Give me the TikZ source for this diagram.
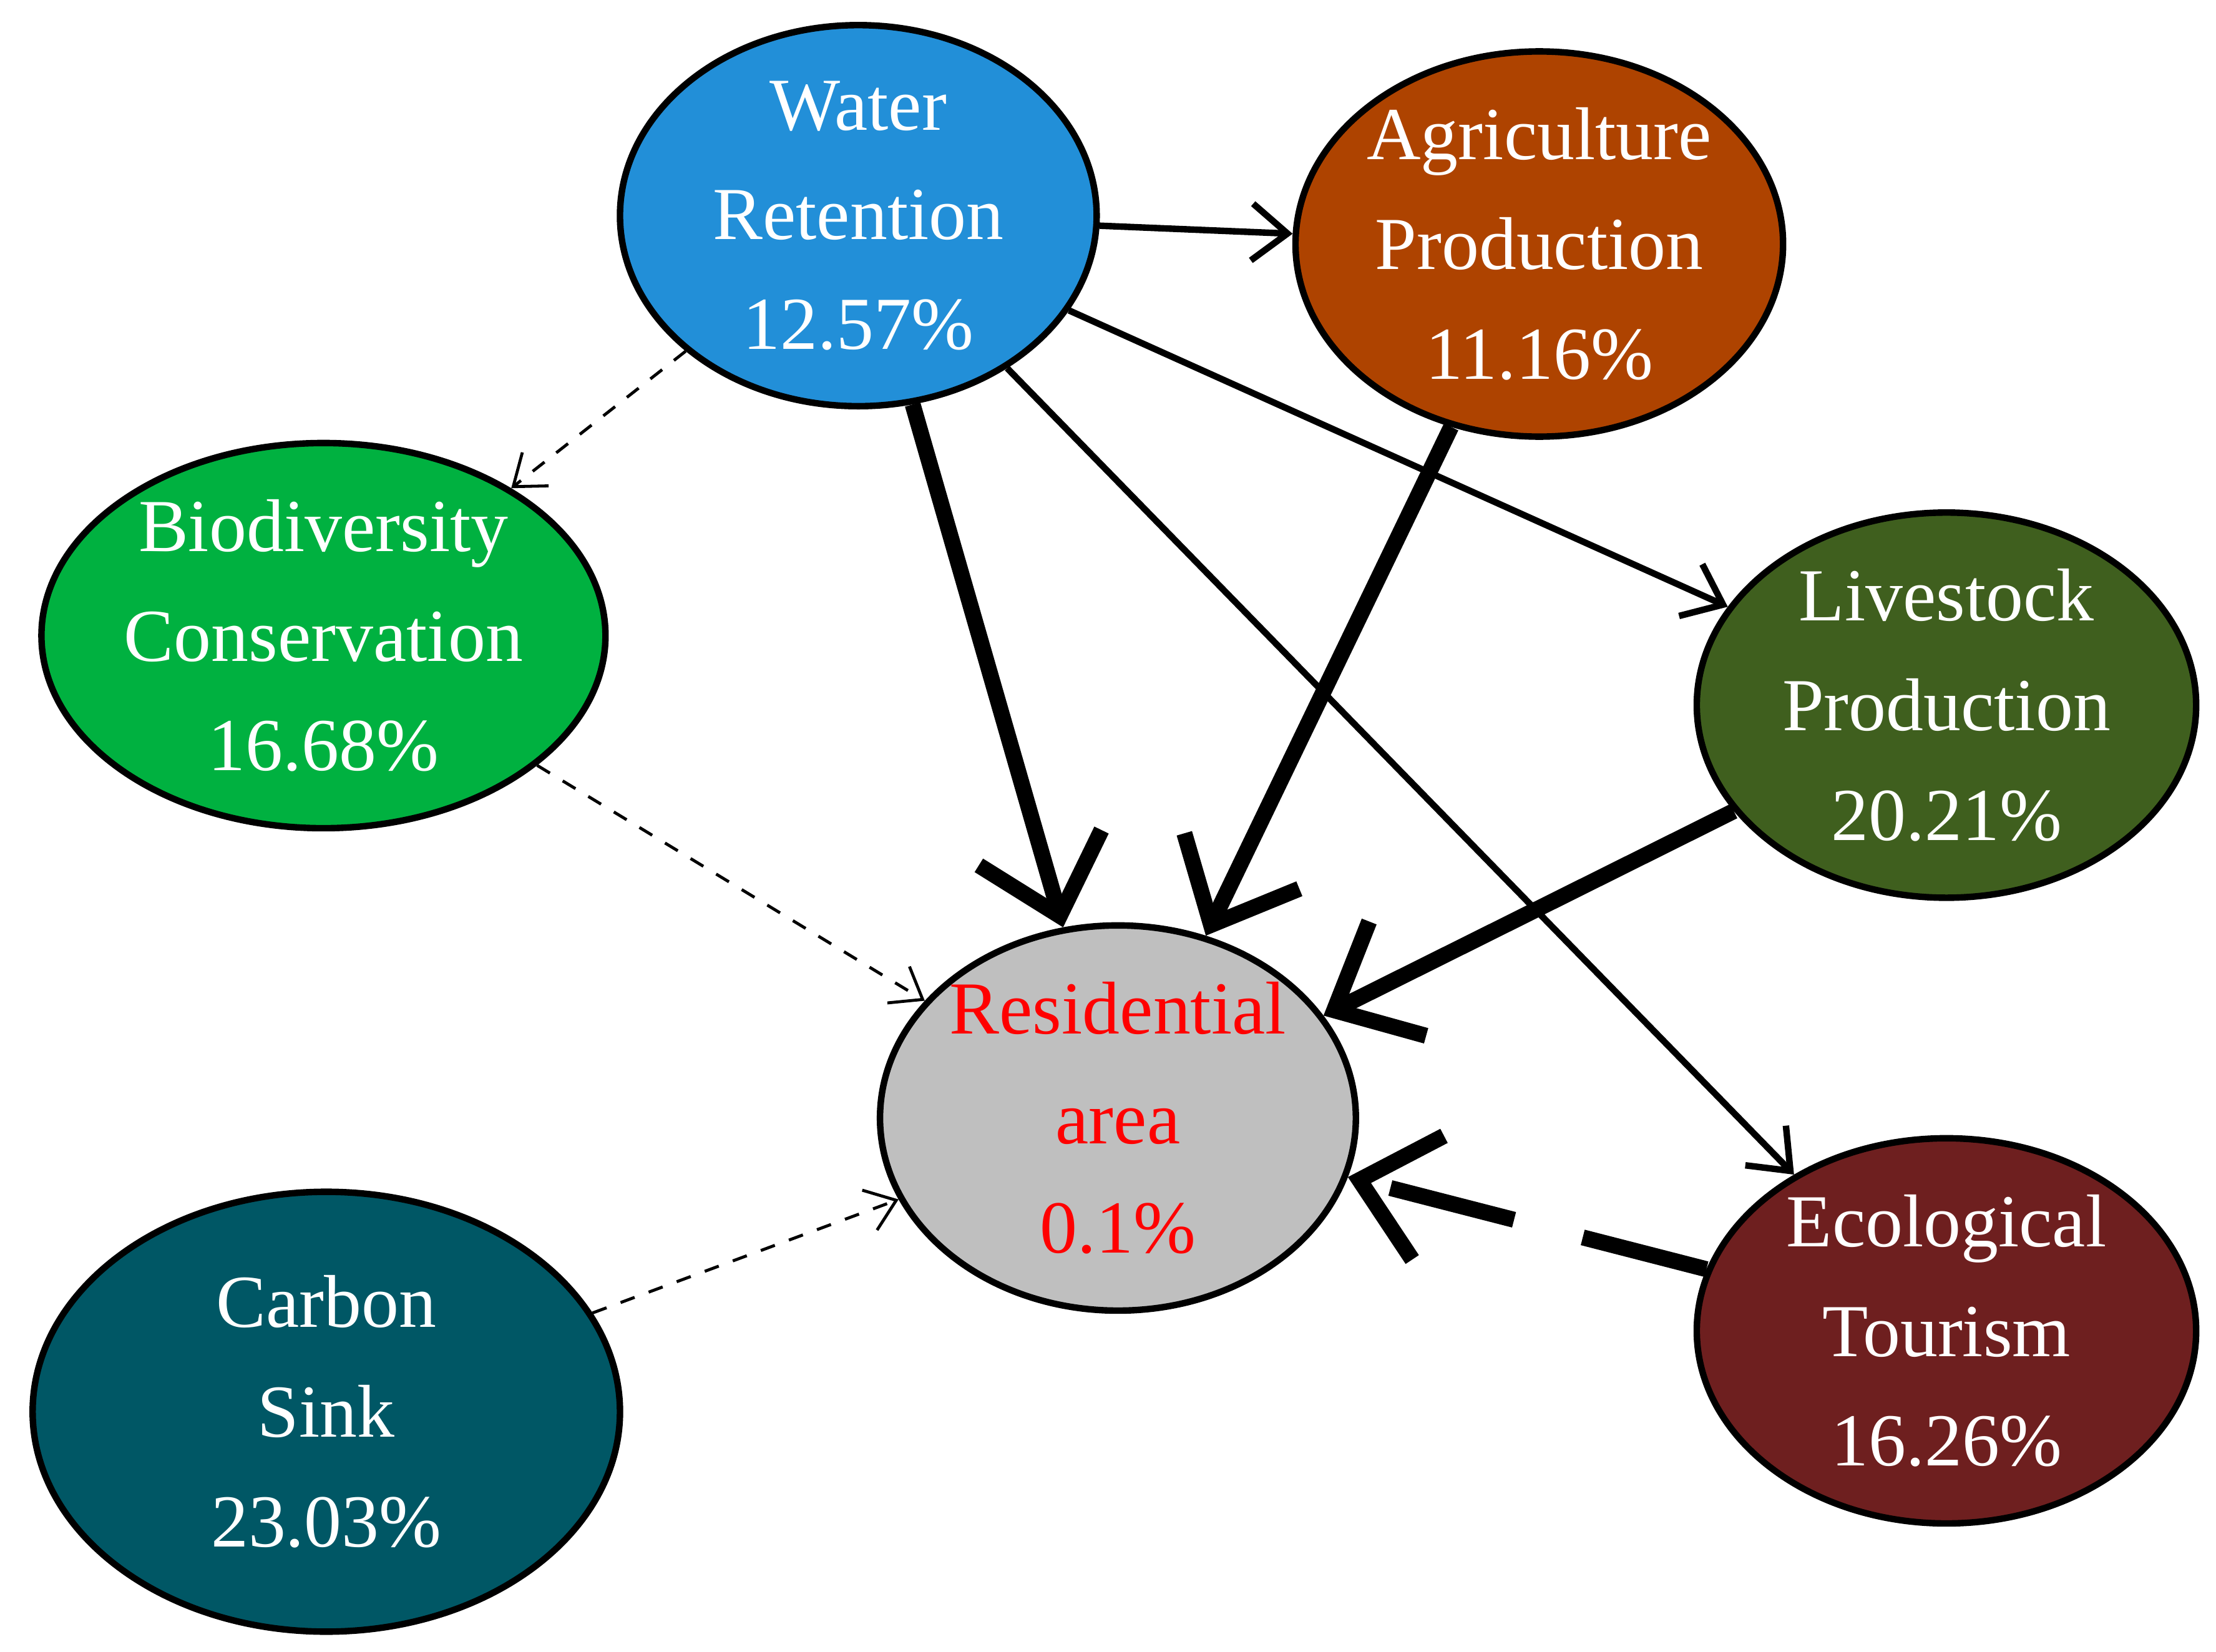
\documentclass[tikz,border=0pt]{standalone}
\usepackage{fontspec}
\setmainfont{Liberation Serif}
\usetikzlibrary{arrows.meta, positioning, shapes.geometric}

\definecolor{cwater}{HTML}{228FD8}
\definecolor{cagri}{HTML}{AE4300}
\definecolor{cbio}{HTML}{00B140}
\definecolor{cstock}{HTML}{3F5F1E}
\definecolor{cres}{HTML}{BFBFBF}
\definecolor{ccarbon}{HTML}{005765}
\definecolor{ceco}{HTML}{6E1F1F}

\tikzset{
    svc/.style={ellipse, draw=black, line width=1.3pt, text=white, align=center,
        font=\fontsize{15}{22}\selectfont, inner sep=0pt},
    heavy/.style={line width=3.2pt, -{Straight Barb[length=5mm, width=9mm, line width=3.2pt]}},
    light/.style={line width=1.3pt, -{Straight Barb[length=2.5mm, width=4mm]}},
    faint/.style={line width=0.6pt, dashed, -{Straight Barb[length=2mm, width=3mm]}},
    heavydash/.style={line width=3.2pt, dash pattern=on 9mm off 5mm,
        -{Straight Barb[length=5mm, width=9mm, line width=3.2pt]}},
}

\begin{document}
\begin{tikzpicture}
    \useasboundingbox (0,0) rectangle (15.62,-11.64);

    \node[svc, fill=cwater, minimum width=3.36cm, minimum height=2.5cm] (water) at (6.05,-1.52) {Water\\ Retention\\ 12.57\%};
    \node[svc, fill=cagri, minimum width=3.1cm, minimum height=2.34cm] (agri) at (10.85,-1.72) {Agriculture\\ Production\\ 11.16\%};
    \node[svc, fill=cbio, minimum width=3.54cm, minimum height=2.64cm] (bio) at (2.28,-4.48) {Biodiversity\\ Conservation\\ 16.68\%};
    \node[svc, fill=cstock, minimum width=3.52cm, minimum height=2.36cm] (stock) at (13.72,-4.97) {Livestock\\ Production\\ 20.21\%};
    \node[svc, fill=cres, text=red, minimum width=2.96cm, minimum height=1.7cm] (res) at (7.88,-7.88) {Residential\\ area\\ 0.1\%};
    \node[svc, fill=ccarbon, minimum width=4.14cm, minimum height=3.1cm] (carbon) at (2.30,-9.95) {Carbon\\ Sink\\ 23.03\%};
    \node[svc, fill=ceco, minimum width=3.52cm, minimum height=2.64cm] (eco) at (13.72,-9.38) {Ecological\\ Tourism\\ 16.26\%};

    % links from water retention
    \draw[light] (water) -- (agri);
    \draw[light] (water) -- (stock);
    \draw[light] (water) -- (eco);
    \draw[faint] (water) -- (bio);

    % links into residential area
    \draw[heavy] (water) -- (res);
    \draw[heavy] (agri) -- (res);
    \draw[heavy] (stock) -- (res);
    \draw[heavydash] (eco) -- (res);
    \draw[faint] (bio) -- (res);
    \draw[faint] (carbon) -- (res);
\end{tikzpicture}
\end{document}
